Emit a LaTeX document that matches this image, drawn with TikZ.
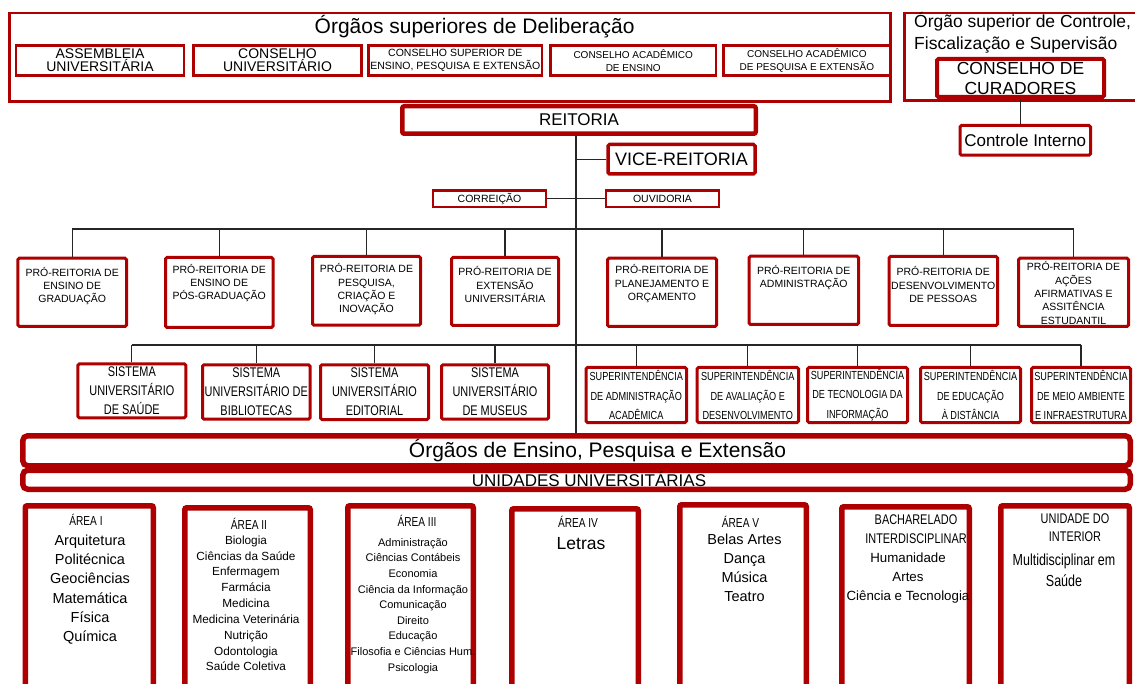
\documentclass[tikz,border=0pt]{standalone}
\usepackage{fontspec}
\setmainfont{Liberation Sans}
\newfontfamily\narrowfont{Liberation Sans}[FakeStretch=0.78]
\definecolor{orgred}{RGB}{174,0,0}
\newcommand\fsz[2]{\fontsize{#1}{#2}\selectfont}

\tikzset{
  box/.style={draw=orgred, fill=white, inner sep=0pt, align=center, text=black},
  thinbox/.style={box, line width=2.5pt},
  midbox/.style={box, line width=3pt, rounded corners=1.5pt},
  heavybox/.style={box, line width=4.5pt, rounded corners=2pt},
  barbox/.style={box, line width=5.5pt, rounded corners=5pt},
  areabox/.style={box, line width=5.5pt, rounded corners=2pt},
  conn/.style={draw=black!85, line width=1.2pt},
  txt/.style={inner sep=0pt, align=center, text=black},
  protxt/.style={txt, font=\fsz{10.5}{13.3}},
  suptxt/.style={font=\narrowfont\fsz{11.7}{19.5}},
  sistxt/.style={font=\narrowfont\fsz{14}{19}},
  arealabel/.style={txt, font=\narrowfont\fsz{13}{18}},
}

% box given by the corners of its border line: name, x1, y1, x2, y2, style, text
\newcommand\bx[7]{%
  \pgfmathsetmacro\bxw{#4-#2}\pgfmathsetmacro\bxh{#5-#3}%
  \pgfmathsetmacro\bxcx{(#2+#4)/2}\pgfmathsetmacro\bxcy{(#3+#5)/2}%
  \node[#6, minimum width=\bxw pt, minimum height=\bxh pt] (#1) at (\bxcx,\bxcy) {#7};}

\begin{document}
\begin{tikzpicture}[x=1pt,y=-1pt]
\useasboundingbox (0,0) rectangle (1135,684);
\fill[white] (0,0) rectangle (1135,684);
\clip (0,0) rectangle (1135,684);

% ---- deliberative bodies
\bx{delib}{9.25}{13}{890.25}{101.5}{thinbox}{}
\node[txt, anchor=west, font=\fsz{21}{24}] (delibtitle) at (314.5,27) {Órgãos superiores de Deliberação};
\bx{assemb}{15.9}{45.4}{184.1}{75.3}{thinbox, font=\fsz{14}{12.5}}{ASSEMBLEIA\\UNIVERSITÁRIA}
\bx{consuni}{193.4}{45.4}{361.6}{75.3}{thinbox, font=\fsz{14}{12.5}}{CONSELHO\\UNIVERSITÁRIO}
\bx{consepe}{368.4}{45.4}{542.2}{75.3}{thinbox, font=\fsz{10.5}{13}}{CONSELHO SUPERIOR DE\\ENSINO, PESQUISA E EXTENSÃO}
\bx{caen}{550.4}{45.4}{716.1}{75.3}{thinbox, font=\fsz{10}{13}}{CONSELHO ACADÊMICO\\DE ENSINO}
\bx{capex}{723.4}{45.4}{890.25}{75.3}{thinbox, font=\fsz{10}{13}}{CONSELHO ACADÊMICO\\DE PESQUISA E EXTENSÃO}

% ---- control bodies
\bx{ctrl}{904.25}{13}{1150}{100.5}{thinbox}{}
\node[txt, anchor=west, align=left, font=\fsz{17.5}{21.5}] (ctrltitle) at (914,33) {Órgão superior de Controle,\\Fiscalização e Supervisão};
\bx{curad}{937}{59}{1104}{97}{box, line width=4pt, rounded corners=1.5pt, font=\fsz{17.5}{20}}{CONSELHO DE\\CURADORES}
\bx{cint}{960}{125.5}{1090.5}{155.2}{midbox, font=\fsz{17}{20}}{Controle Interno}
\draw[conn] (curad.south) -- (curad.south |- cint.north);

% ---- rectorate
\bx{reit}{402.25}{106.25}{755.75}{133.75}{heavybox, font=\fsz{17}{20}}{REITORIA}
\bx{vice}{608}{144.5}{755}{174}{box, line width=3.5pt, rounded corners=1.5pt, font=\fsz{18}{20}}{VICE-REITORIA}
\bx{corr}{433.25}{190.5}{545.75}{207}{box, line width=2.2pt, font=\fsz{10.5}{12}}{CORREIÇÃO}
\bx{ouv}{606.25}{190.5}{718.75}{207}{box, line width=2.2pt, font=\fsz{10.5}{12}}{OUVIDORIA}

% ---- pro-rectorates
\bx{p1}{17.9}{258.2}{126.5}{326.5}{midbox}{}
\bx{p2}{165.5}{257.5}{273}{327.5}{midbox}{}
\bx{p3}{312.5}{256.5}{420.5}{325.2}{midbox}{}
\bx{p4}{451.5}{257.5}{558.5}{325.5}{midbox}{}
\bx{p5}{607.5}{258.2}{716.5}{326.5}{midbox}{}
\bx{p6}{749}{256.2}{858.5}{324.5}{midbox}{}
\bx{p7}{889}{256.5}{997.5}{325.5}{midbox}{}
\bx{p8}{1018.5}{258.2}{1128.5}{326.5}{midbox}{}
\node[protxt] (p1t) at (72.2,286) {PRÓ-REITORIA DE\\ENSINO DE\\GRADUAÇÃO};
\node[protxt] (p2t) at (219.2,283) {PRÓ-REITORIA DE\\ENSINO DE\\PÓS-GRADUAÇÃO};
\node[protxt] (p3t) at (366.5,289.3) {PRÓ-REITORIA DE\\PESQUISA,\\CRIAÇÃO E\\INOVAÇÃO};
\node[protxt] (p4t) at (505,284.5) {PRÓ-REITORIA DE\\EXTENSÃO\\UNIVERSITÁRIA};
\node[protxt] (p5t) at (662,283.8) {PRÓ-REITORIA DE\\PLANEJAMENTO E\\ORÇAMENTO};
\node[protxt] (p6t) at (803.7,277.5) {PRÓ-REITORIA DE\\ADMINISTRAÇÃO};
\node[protxt] (p7t) at (943.2,284.5) {PRÓ-REITORIA DE\\DESENVOLVIMENTO\\DE PESSOAS};
\node[protxt] (p8t) at (1073.5,293) {PRÓ-REITORIA DE\\AÇÕES\\AFIRMATIVAS E\\ASSITÊNCIA\\ESTUDANTIL};

% ---- university systems and superintendencies
\bx{s1}{77.9}{363.8}{185.8}{417.8}{midbox, sistxt}{SISTEMA\\UNIVERSITÁRIO\\DE SAÚDE}
\bx{s2}{202.5}{364.8}{310.1}{419.2}{midbox, sistxt}{SISTEMA\\UNIVERSITÁRIO DE\\BIBLIOTECAS}
\bx{s3}{320.5}{364.8}{428.5}{419.5}{midbox, sistxt}{SISTEMA\\UNIVERSITÁRIO\\EDITORIAL}
\bx{s4}{441.5}{364.8}{548.5}{419.2}{midbox, sistxt}{SISTEMA\\UNIVERSITÁRIO\\DE MUSEUS}
\bx{u1}{586}{367.5}{686.5}{422.5}{midbox, suptxt}{SUPERINTENDÊNCIA\\DE ADMINISTRAÇÃO\\ACADÊMICA}
\bx{u2}{697}{367.5}{798.5}{422.5}{midbox, suptxt}{SUPERINTENDÊNCIA\\DE AVALIAÇÃO E\\DESENVOLVIMENTO}
\bx{u3}{807.5}{367.5}{907.5}{422.5}{midbox, suptxt}{SUPERINTENDÊNCIA\\DE TECNOLOGIA DA\\INFORMAÇÃO}
\bx{u4}{920.5}{367.5}{1020.5}{422.5}{midbox, suptxt}{SUPERINTENDÊNCIA\\DE EDUCAÇÃO\\À DISTÂNCIA}
\bx{u5}{1031.5}{367.5}{1130.5}{422.5}{midbox, suptxt}{SUPERINTENDÊNCIA\\DE MEIO AMBIENTE\\E INFRAESTRUTURA}

% ---- teaching, research and extension bodies
\bx{ens}{22.75}{435.75}{1130.25}{465.75}{barbox}{}
\bx{unid}{22.75}{470.25}{1130.25}{489.25}{barbox}{}
\node[txt, font=\fsz{21}{24}] (enst) at (597.5,451) {Órgãos de Ensino, Pesquisa e Extensão};
\node[txt, anchor=base, font=\fsz{17}{20}] (unidt) at (589,486.5) {UNIDADES UNIVERSITÁRIAS};

% ---- connectors
\coordinate (tk) at (576,134);
\coordinate (bus1) at (576,229);
\coordinate (bus2) at (576,345);
\draw[conn] (reit.south -| tk) -- (ens.north -| tk);
\draw[conn] (vice.west -| tk) -- (vice.west);
\draw[conn] (corr.east) -- (ouv.west);
\draw[conn] (p1.north |- bus1) -- (p8.north |- bus1);
\foreach \p in {p1,p2,p3,p4,p5,p6,p7,p8} \draw[conn] (\p.north |- bus1) -- (\p.north);
\draw[conn] (s1.north |- bus2) -- (u5.north |- bus2);
\foreach \p in {s1,s2,s3,s4,u1,u2,u3,u4,u5} \draw[conn] (\p.north |- bus2) -- (\p.north);

% ---- university areas
\bx{a1}{25.25}{505.75}{153.25}{710}{areabox}{}
\bx{a2}{184.75}{507.75}{310.25}{710}{areabox}{}
\bx{a3}{347.75}{505.75}{473.25}{710}{areabox}{}
\bx{a4}{511.75}{508.75}{638.25}{710}{areabox}{}
\bx{a5}{679.75}{504.75}{806.25}{710}{areabox}{}
\bx{a6}{841.75}{506.75}{969.25}{710}{areabox}{}
\bx{a7}{1000.75}{505.75}{1129.25}{710}{areabox}{}

\node[arealabel] (a1l) at (86,520) {ÁREA I};
\node[txt, font=\fsz{14.5}{19.2}] (a1t) at (90,589.7) {Arquitetura\\Politécnica\\Geociências\\Matemática\\Física\\Química};
\node[arealabel] (a2l) at (249,524) {ÁREA II};
\node[txt, font=\fsz{11.8}{15.83}] (a2t) at (246,603.3) {Biologia\\Ciências da Saúde\\Enfermagem\\Farmácia\\Medicina\\Medicina Veterinária\\Nutrição\\Odontologia\\Saúde Coletiva};
\node[arealabel] (a3l) at (417,520.7) {ÁREA III};
\node[txt, font=\fsz{11}{15.6}] (a3t) at (413,605.8) {Administração\\Ciências Contábeis\\Economia\\Ciência da Informação\\Comunicação\\Direito\\Educação\\Filosofia e Ciências Hum.\\Psicologia};
\node[arealabel] (a4l) at (578,522) {ÁREA IV};
\node[txt, font=\fsz{17.5}{20}] (a4t) at (581,543.5) {Letras};
\node[arealabel] (a5l) at (740.5,522) {ÁREA V};
\node[txt, font=\fsz{14.5}{19.1}] (a5t) at (744.5,568) {Belas Artes\\Dança\\Música\\Teatro};
\node[txt, font=\narrowfont\fsz{14}{18.3}] (a6l) at (916,529.2) {BACHARELADO\\INTERDISCIPLINAR};
\node[txt, font=\fsz{13.3}{18.7}] (a6t) at (908,578) {Humanidade\\Artes\\Ciência e Tecnologia};
\node[txt, font=\narrowfont\fsz{14}{18.3}] (a7l) at (1075,527.5) {UNIDADE DO\\INTERIOR};
\node[txt, font=\narrowfont\fsz{16}{21}] (a7t) at (1064,570.5) {Multidisciplinar em\\Saúde};
\end{tikzpicture}
\end{document}
